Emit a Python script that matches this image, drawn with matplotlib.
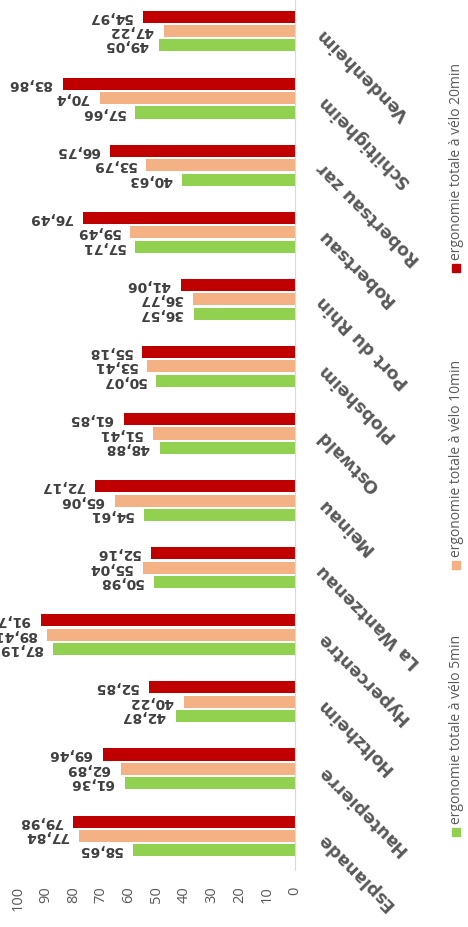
import matplotlib.pyplot as plt
import numpy as np
from matplotlib.patches import Rectangle

plt.rcParams['font.family'] = ['DejaVu Sans']

cats = ['Esplanade', 'Hautepierre', 'Holtzheim', 'Hypercentre', 'La Wantzenau',
        'Meinau', 'Ostwald', 'Plobsheim', 'Port du Rhin', 'Robertsau',
        'Robertsau zar', 'Schiltigheim', 'Vendenheim']
v5 = [58.65, 61.36, 42.87, 87.19, 50.98, 54.61, 48.88, 50.07, 36.57, 57.71, 40.63, 57.66, 49.05]
v10 = [77.84, 62.89, 40.22, 89.41, 55.04, 65.06, 51.41, 53.41, 36.77, 59.49, 53.79, 70.4, 47.22]
v20 = [79.98, 69.46, 52.85, 91.7, 52.16, 72.17, 61.85, 55.18, 41.06, 76.49, 66.75, 83.86, 54.97]
series = ['ergonomie totale à vélo 5min', 'ergonomie totale à vélo 10min',
          'ergonomie totale à vélo 20min']
colors = ['#92d050', '#f4b183', '#c00000']

W, H = 468, 927
fig = plt.figure(figsize=(W / 100, H / 100), dpi=100)
ax = fig.add_axes([18 / W, 1 - 869.5 / H, 277 / W, 872 / H])

y = np.arange(len(cats))
step = 0.215
for k, vals in enumerate([v5, v10, v20]):
    yy = y + (k - 1) * step
    ax.barh(yy, vals, height=0.18, color=colors[k])
    for v, yi in zip(vals, yy):
        ax.annotate(f"{v:g}".replace('.', ','), xy=(v, yi), xytext=(-7.5, 0),
                    textcoords='offset points', rotation=180, rotation_mode='anchor',
                    ha='left', va='center', fontsize=10, fontweight='bold',
                    color='#404040', annotation_clip=False)

ax.set_xlim(100, 0)
ax.set_ylim(-0.5, len(cats) - 0.5)
ax.set_xticks(range(0, 101, 10))
ax.set_xticklabels([str(t) for t in range(0, 101, 10)], rotation=90,
                   fontsize=10.5, color='#595959', family='Open Sans')
ax.tick_params(axis='x', length=0, pad=12)
ax.yaxis.tick_right()
ax.set_yticks(y)
ax.set_yticklabels(cats, rotation=135, rotation_mode='anchor', ha='right',
                   va='center', fontsize=12.5, fontweight='bold', color='#595959')
ax.tick_params(axis='y', length=0, pad=18)
for s in ['top', 'left', 'bottom']:
    ax.spines[s].set_visible(False)
ax.spines['right'].set_color('#d9d9d9')

# legend, drawn rotated like the rest of the chart
sq_y = [832, 565, 268]
for k in range(3):
    fig.add_artist(Rectangle((452 / W, 1 - (sq_y[k] + 4) / H), 8 / W, 8 / H,
                             transform=fig.transFigure, color=colors[k]))
    fig.text(456 / W, 1 - (sq_y[k] - 8) / H, series[k], rotation=90,
             rotation_mode='anchor', ha='left', va='center', fontsize=10,
             color='#595959', family='Open Sans')

fig.savefig('out.png', dpi=100)
